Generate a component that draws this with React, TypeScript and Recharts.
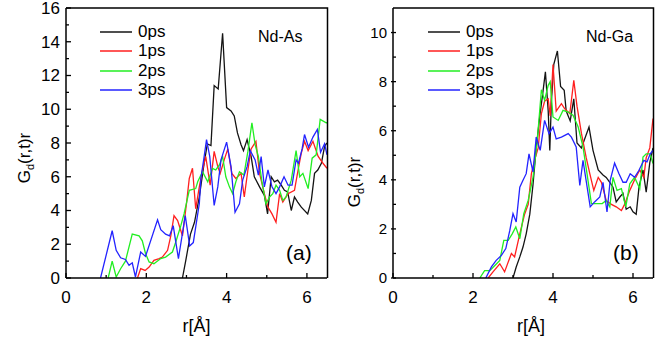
import { LineChart, Line, XAxis, YAxis } from 'recharts';

// r [Å], Gd(r,t)r pairs
const asT0 = [[2.9,0],[2.98,1.0],[3.1,2.6],[3.2,3.3],[3.32,4.8],[3.44,6.8],[3.52,7.95],[3.61,7.85],[3.69,11.4],[3.79,11.2],[3.9,14.5],[4.0,10.1],[4.11,9.9],[4.19,9.6],[4.27,8.6],[4.36,7.9],[4.42,7.55],[4.51,8.2],[4.61,7.2],[4.69,6.0],[4.82,5.4],[4.94,4.9],[5.02,3.8],[5.11,6.0],[5.19,5.7],[5.27,5.8],[5.36,5.5],[5.44,5.2],[5.52,5.1],[5.61,4.0],[5.69,4.8],[5.77,4.5],[5.86,4.2],[6.02,3.8],[6.11,4.6],[6.19,6.2],[6.27,6.4],[6.36,6.8],[6.44,7.8],[6.5,8.0]];
const asT1 = [[1.78,0],[1.86,0.56],[1.97,0.45],[2.07,0.65],[2.19,1.05],[2.32,1.15],[2.4,1.24],[2.53,1.64],[2.61,2.5],[2.69,3.7],[2.78,3.4],[2.9,2.5],[3.0,4.4],[3.07,5.9],[3.15,6.5],[3.23,4.1],[3.32,5.4],[3.4,6.4],[3.48,7.2],[3.59,5.5],[3.69,7.5],[3.78,6.6],[3.84,6.2],[3.94,7.0],[4.03,7.65],[4.13,6.2],[4.23,5.9],[4.36,6.2],[4.44,4.8],[4.53,6.4],[4.61,7.65],[4.73,8.1],[4.82,6.2],[4.94,5.0],[5.03,4.2],[5.13,3.8],[5.23,3.3],[5.32,5.0],[5.4,4.5],[5.53,5.0],[5.69,5.2],[5.78,6.4],[5.86,7.4],[5.94,8.1],[6.03,7.55],[6.15,8.1],[6.28,7.2],[6.4,6.8],[6.5,6.5]];
const asT2 = [[1.05,0],[1.15,1.0],[1.25,0.06],[1.36,0.55],[1.48,1.0],[1.65,2.6],[1.82,2.5],[1.9,2.2],[1.98,1.45],[2.07,0.95],[2.19,0.85],[2.36,1.15],[2.48,1.24],[2.65,1.54],[2.73,2.1],[2.86,3.1],[2.94,3.8],[3.07,5.2],[3.23,5.3],[3.28,5.7],[3.4,6.3],[3.53,5.7],[3.65,6.5],[3.73,6.4],[3.82,6.7],[3.9,7.2],[3.98,6.0],[4.07,5.4],[4.15,5.0],[4.23,5.7],[4.32,6.3],[4.43,6.1],[4.53,7.5],[4.63,9.2],[4.71,7.9],[4.79,7.2],[4.88,5.7],[4.98,4.4],[5.07,4.8],[5.15,5.0],[5.23,5.5],[5.32,5.2],[5.4,4.6],[5.48,4.8],[5.61,5.8],[5.73,7.55],[5.82,6.0],[5.9,6.2],[6.03,5.3],[6.13,7.1],[6.23,7.3],[6.33,9.4],[6.48,9.2],[6.5,9.2]];
const asT3 = [[0.86,0],[1.15,2.8],[1.25,1.64],[1.36,1.2],[1.48,1.1],[1.57,0.75],[1.65,0.9],[1.73,0.06],[1.86,1.54],[1.98,1.28],[2.28,3.45],[2.36,2.86],[2.48,2.6],[2.58,2.5],[2.67,3.1],[2.8,1.15],[2.97,3.7],[3.08,1.9],[3.17,2.1],[3.32,4.4],[3.36,5.9],[3.44,7.2],[3.5,8.2],[3.58,7.2],[3.69,4.3],[3.78,5.4],[3.86,7.0],[4.0,8.05],[4.11,6.6],[4.21,3.9],[4.32,4.4],[4.4,5.8],[4.51,6.6],[4.59,7.55],[4.71,7.0],[4.79,6.1],[4.86,7.2],[4.94,5.4],[5.03,6.4],[5.13,5.4],[5.23,5.0],[5.32,5.4],[5.43,6.0],[5.53,5.5],[5.63,5.5],[5.73,7.0],[5.79,6.8],[5.88,7.65],[5.94,8.5],[6.04,7.75],[6.15,8.35],[6.26,8.8],[6.34,7.45],[6.44,7.95],[6.5,7.3]];

const gaT0 = [[3.0,0],[3.08,0.45],[3.17,0.86],[3.25,1.26],[3.33,1.8],[3.42,2.6],[3.5,3.8],[3.58,5.3],[3.67,6.6],[3.75,7.6],[3.81,8.4],[3.88,6.8],[3.92,5.2],[3.96,7.2],[4.02,8.7],[4.11,9.25],[4.19,7.8],[4.28,7.65],[4.33,6.8],[4.43,6.4],[4.52,7.3],[4.6,5.5],[4.71,5.3],[4.9,6.15],[5.0,5.2],[5.13,4.4],[5.25,4.2],[5.33,4.1],[5.42,3.9],[5.5,3.7],[5.58,3.1],[5.67,3.3],[5.75,3.45],[5.83,2.8],[5.93,2.9],[6.0,2.7],[6.08,2.6],[6.15,3.7],[6.25,4.4],[6.33,3.5],[6.42,4.7],[6.5,5.3]];
const gaT1 = [[2.38,0],[2.5,0.25],[2.67,0.58],[2.79,0.25],[2.96,1.0],[3.04,0.86],[3.17,1.8],[3.29,2.6],[3.38,3.0],[3.46,4.25],[3.54,4.8],[3.63,5.3],[3.71,6.7],[3.79,7.2],[3.88,7.3],[3.93,6.6],[4.0,8.7],[4.08,6.8],[4.21,7.1],[4.29,6.9],[4.42,6.7],[4.52,8.05],[4.6,7.0],[4.71,5.9],[4.83,4.9],[4.92,4.25],[5.02,3.57],[5.13,4.1],[5.21,3.9],[5.33,3.16],[5.46,3.0],[5.58,2.9],[5.71,2.75],[5.79,3.0],[5.92,3.57],[6.04,4.0],[6.17,4.4],[6.27,4.1],[6.33,4.9],[6.42,5.3],[6.5,6.5]];
const gaT2 = [[2.17,0],[2.29,0.3],[2.42,0.3],[2.54,0.5],[2.67,0.72],[2.77,1.53],[2.88,1.53],[2.98,1.8],[3.07,2.08],[3.17,1.6],[3.27,2.62],[3.38,3.16],[3.5,4.1],[3.6,5.47],[3.71,7.67],[3.79,7.24],[3.88,7.85],[3.93,8.0],[4.0,6.56],[4.13,6.42],[4.25,6.83],[4.38,6.76],[4.5,6.63],[4.63,6.15],[4.75,5.34],[4.85,4.25],[4.96,3.03],[5.08,3.03],[5.23,3.03],[5.33,3.16],[5.42,2.9],[5.5,4.1],[5.6,3.57],[5.71,3.64],[5.82,2.9],[5.92,3.84],[6.04,4.1],[6.17,3.64],[6.25,4.93],[6.33,5.06],[6.43,5.06],[6.5,4.66]];
const gaT3 = [[2.32,0],[2.46,0.45],[2.58,0.72],[2.71,0.92],[2.82,1.2],[2.92,1.94],[3.0,2.62],[3.08,2.28],[3.17,3.7],[3.25,3.98],[3.33,4.25],[3.4,5.06],[3.5,4.32],[3.58,5.74],[3.68,5.2],[3.79,6.42],[3.9,5.88],[4.0,6.15],[4.08,5.67],[4.21,5.74],[4.38,5.88],[4.46,5.74],[4.58,5.34],[4.67,3.77],[4.75,4.79],[4.93,2.9],[5.04,3.1],[5.17,3.3],[5.25,3.9],[5.35,2.69],[5.43,3.98],[5.54,4.68],[5.65,4.25],[5.75,3.9],[5.83,3.9],[5.93,4.25],[6.04,4.1],[6.15,4.39],[6.27,4.79],[6.35,4.73],[6.43,5.06],[6.5,5.2]];

const names = ['0ps', '1ps', '2ps', '3ps'];
const colors = ['#141414', '#ff1f1f', '#22ee22', '#2323ff'];
const xTicks = [0, 1, 2, 3, 4, 5, 6];
const yTicksAs = [0, 1, 2, 3, 4, 5, 6, 7, 8, 9, 10, 11, 12, 13, 14, 15, 16];
const yTicksGa = [0, 1, 2, 3, 4, 5, 6, 7, 8, 9, 10];

const FONT = '"Liberation Sans", Arial, sans-serif';

const toPts = (a: number[][]) => a.map(([r, g]) => ({ r, g }));

const XTick = ({ x, y, payload }: any) => {
  const v = payload.value;
  const major = v % 2 === 0;
  const axisY = y - 12;
  return (
    <g>
      <line x1={x} x2={x} y1={axisY} y2={axisY - (major ? 5 : 3)} stroke="#000" strokeWidth={1.3} />
      {major && (
        <text x={x} y={y} dy={13} textAnchor="middle" fontSize={17} fontFamily={FONT} fill="#000">{v}</text>
      )}
    </g>
  );
};

// dir 1 = ticks into the plot, -1 = ticks outward
const makeYTick = (gap: number, fs: number, dir: number) => ({ x, y, payload }: any) => {
  const v = payload.value;
  const major = v % 2 === 0;
  const axisX = x + gap;
  return (
    <g>
      <line x1={axisX} x2={axisX + dir * (major ? 5 : 3)} y1={y} y2={y} stroke="#000" strokeWidth={1.3} />
      {major && (
        <text x={x} y={y} dy={fs * 0.35} textAnchor="end" fontSize={fs} fontFamily={FONT} fill="#000">{v}</text>
      )}
    </g>
  );
};

const YTickAs = makeYTick(6, 17, 1);
const YTickGa = makeYTick(9, 15, -1);

function Panel({ sets, yMax, yTicks, YTick, yW, width, right, labelDx }: any) {
  return (
    <LineChart width={width} height={338} margin={{ top: 8, right, bottom: 0, left: 0 }}>
      <XAxis dataKey="r" type="number" domain={[0, 6.5]} ticks={xTicks} allowDataOverflow
        height={60} tickSize={0} tickMargin={12} tick={<XTick />} stroke="#000" strokeWidth={1.5}
        label={{ value: 'r[Å]', position: 'insideBottom', offset: 6, dx: labelDx, fontSize: 18, fontFamily: FONT, fill: '#000' }} />
      <YAxis type="number" domain={[0, yMax]} ticks={yTicks} allowDataOverflow width={yW}
        tickSize={0} tickMargin={6} tick={<YTick />} stroke="#000" strokeWidth={1.5} interval={0} />
      {sets.map((s: number[][], i: number) => (
        <Line key={names[i]} data={toPts(s)} dataKey="g" name={names[i]}
          type="linear" stroke={colors[i]} strokeWidth={1.3} dot={false} isAnimationActive={false} />
      ))}
    </LineChart>
  );
}

// top and right edges of both plot boxes
function Frames() {
  return (
    <svg width={668} height={338} style={{ position: 'absolute', left: 0, top: 0, pointerEvents: 'none' }}>
      <polyline points="66,8 327.5,8 327.5,278" fill="none" stroke="#000" strokeWidth={1.5} />
      <polyline points="393,8 653.5,8 653.5,278" fill="none" stroke="#000" strokeWidth={1.5} />
    </svg>
  );
}

function LegendBox({ left, top }: { left: number; top: number }) {
  return (
    <div style={{ position: 'absolute', left, top, fontFamily: FONT, fontSize: 17 }}>
      {names.map((n, i) => (
        <div key={n} style={{ display: 'flex', alignItems: 'center', height: 19.5 }}>
          <svg width={32} height={4}><line x1={0} x2={32} y1={2} y2={2} stroke={colors[i]} strokeWidth={1.5} /></svg>
          <span style={{ marginLeft: 6 }}>{n}</span>
        </div>
      ))}
    </div>
  );
}

function YLabel({ cx, cy }: { cx: number; cy: number }) {
  return (
    <div style={{ position: 'absolute', left: cx - 50, top: cy - 12, width: 100, height: 24, textAlign: 'center',
      transform: 'rotate(-90deg)', fontFamily: FONT, fontSize: 17, lineHeight: '24px' }}>
      G<sub style={{ fontSize: 11 }}>d</sub>(r,t)r
    </div>
  );
}

const note = (left: number, top: number, fs: number, txt: string) => (
  <div style={{ position: 'absolute', left, top, fontFamily: FONT, fontSize: fs, lineHeight: 1 }}>{txt}</div>
);

export default function App() {
  return (
    <div style={{ position: 'absolute', left: 0, top: 0, width: 668, height: 338, background: '#fff', overflow: 'hidden' }}>
      <div style={{ position: 'absolute', left: 0, top: 0 }}>
        <Panel sets={[asT0, asT1, asT2, asT3]} yMax={16} yTicks={yTicksAs} YTick={YTickAs} yW={66} width={340} right={13} labelDx={0} />
      </div>
      <div style={{ position: 'absolute', left: 334, top: 0 }}>
        <Panel sets={[gaT0, gaT1, gaT2, gaT3]} yMax={11} yTicks={yTicksGa} YTick={YTickGa} yW={59} width={334} right={15} labelDx={8} />
      </div>
      <Frames />
      <LegendBox left={100} top={22} />
      <LegendBox left={428} top={22} />
      <YLabel cx={25} cy={158} />
      <YLabel cx={355} cy={182} />
      {note(258, 29, 16, 'Nd-As')}
      {note(586, 29, 16, 'Nd-Ga')}
      {note(286, 242, 21, '(a)')}
      {note(613, 242, 21, '(b)')}
    </div>
  );
}
